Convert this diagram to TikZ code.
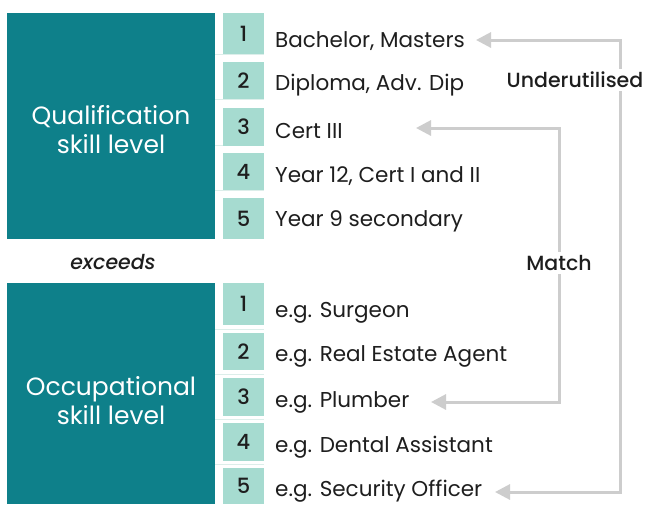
\documentclass[tikz,border=0pt]{standalone}
\usepackage{fontspec}
\setmainfont{Poppins}[BoldFont={Poppins Medium}, BoldItalicFont={Poppins Medium Italic}]
\usetikzlibrary{arrows.meta}
\definecolor{tealdark}{HTML}{0E808A}
\definecolor{tealpale}{HTML}{A6DBD0}
\definecolor{linkgray}{HTML}{CDCDCD}
\definecolor{inkdark}{HTML}{1E1E1E}
\definecolor{rowline}{HTML}{DCEEEA}
\tikzset{
  bigbox/.style={fill=tealdark, draw=none, text=white, font=\fontsize{25}{29}\selectfont,
    align=center, inner sep=0pt},
  numbox/.style={fill=tealpale, draw=none, text=inkdark, minimum width=41pt,
    inner sep=0pt, font=\fontsize{21}{22}\selectfont\bfseries},
  rowtext/.style={anchor=west, text=inkdark, inner sep=0pt, font=\fontsize{21.5}{22}\selectfont},
  linklabel/.style={fill=white, text=inkdark, inner sep=3pt, font=\fontsize{20.5}{22}\selectfont\bfseries},
  link/.style={draw=linkgray, line width=3pt, {Triangle[length=15pt,width=15pt]}-{Triangle[length=15pt,width=15pt]}},
  sep/.style={draw=rowline, line width=0.8pt}
}
\begin{document}
\begin{tikzpicture}[x=1pt,y=-1pt]
\useasboundingbox (0,0) rectangle (650,504);
\fill[white] (0,0) rectangle (650,504);

% qualification side
\node[bigbox, minimum width=208pt, minimum height=226pt] (qbox) at (111,126) {};
\node[bigbox, fill=none] (qlab) at (111,130) {Qualification\\skill level};
\foreach \yy in {54,99,145,190} \draw[sep] (215,\yy) -- (264,\yy);
\node[numbox, minimum height=41pt] (q1) at (243.5,33.5) {1};
\node[numbox, minimum height=37pt] (q2) at (243.5,80.5) {2};
\node[numbox, minimum height=38pt] (q3) at (243.5,126.5) {3};
\node[numbox, minimum height=37pt] (q4) at (243.5,171.5) {4};
\node[numbox, minimum height=41pt] (q5) at (243.5,218.5) {5};
\node[rowtext] (qt1) at (275,41.5) {Bachelor, Masters};
\node[rowtext] (qt2) at (275,85.5) {Diploma, Adv. Dip};
\node[rowtext] (qt3) at (275,131.5) {Cert III};
\node[rowtext] (qt4) at (275,176.5) {Year 12, Cert I and II};
\node[rowtext] (qt5) at (275,221.5) {Year 9 secondary};

\node[text=inkdark, font=\fontsize{20.5}{22}\selectfont\bfseries\itshape] (exc) at (113,262) {exceeds};

% occupational side
\node[bigbox, minimum width=208pt, minimum height=221pt] (obox) at (111,393.5) {};
\node[bigbox, fill=none] (olab) at (111,401) {Occupational\\skill level};
\foreach \yy in {329,374,419,464} \draw[sep] (215,\yy) -- (264,\yy);
\node[numbox, minimum height=42pt] (o1) at (243.5,304) {1};
\node[numbox, minimum height=37pt] (o2) at (243.5,351.5) {2};
\node[numbox, minimum height=38pt] (o3) at (243.5,397) {3};
\node[numbox, minimum height=38pt] (o4) at (243.5,442) {4};
\node[numbox, minimum height=36pt] (o5) at (243.5,486) {5};
\node[rowtext] (ot1) at (275,312.5) {e.g. Surgeon};
\node[rowtext] (ot2) at (275,356.5) {e.g. Real Estate Agent};
\node[rowtext] (ot3) at (275,402.5) {e.g. Plumber};
\node[rowtext] (ot4) at (275,447.5) {e.g. Dental Assistant};
\node[rowtext] (ot5) at (275,491) {e.g. Security Officer};

% connectors, arrowheads at both ends
\coordinate (uEnd) at (495,492);
\coordinate (uTip) at (476,40);
\coordinate (mEnd) at (431,402);
\coordinate (mTip) at (416,128);
\draw[link] (uEnd) -- (620,492) -- (620,40) -- (uTip);
\draw[link] (mEnd) -- (559,402) -- (559,128) -- (mTip);
\node[linklabel] (under) at (575,80) {Underutilised};
\node[linklabel] (match) at (559,263) {Match};
\end{tikzpicture}
\end{document}
